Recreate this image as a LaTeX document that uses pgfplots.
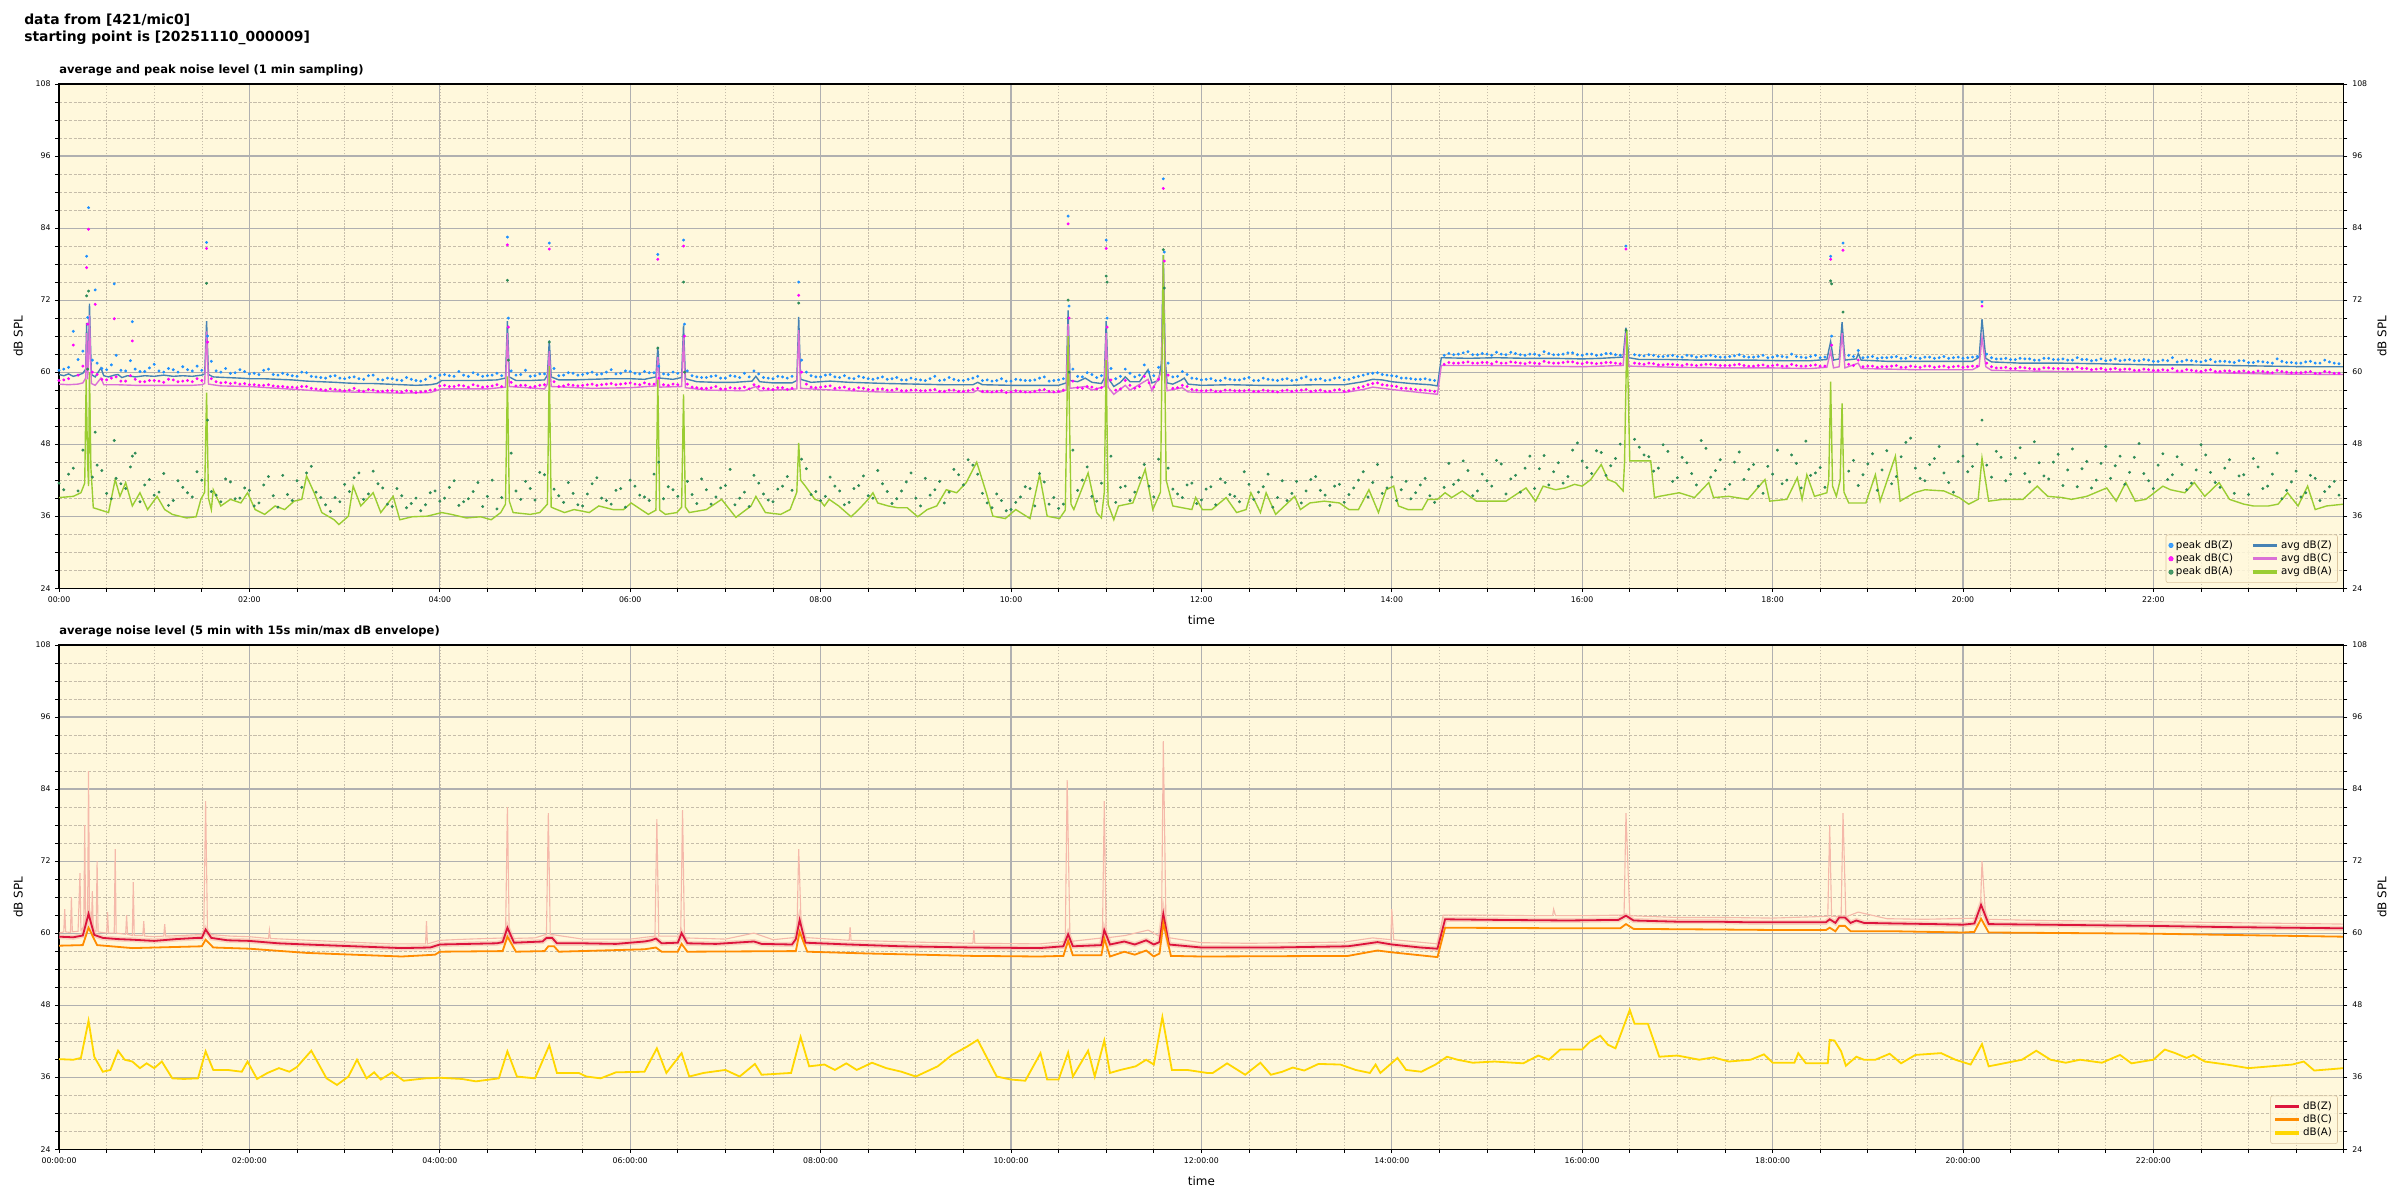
\documentclass[border=0pt]{standalone}
\usepackage{fontspec}
\setmainfont{DejaVu Sans}
\usepackage{pgfplots}
\usepackage{pgfplotstable}
\pgfplotsset{compat=1.18}

\definecolor{bg}{HTML}{FFF8DC}
\definecolor{pz}{HTML}{1E90FF}
\definecolor{pc}{HTML}{FF00FF}
\definecolor{pa}{HTML}{2E8B57}
\definecolor{az}{HTML}{4682B4}
\definecolor{ac}{HTML}{DA70D6}
\definecolor{aa}{HTML}{9ACD32}
\definecolor{cz}{HTML}{DC143C}
\definecolor{cc}{HTML}{FF8C00}
\definecolor{ca}{HTML}{FFD700}
\definecolor{env}{HTML}{F5B9AA}
\definecolor{gmaj}{HTML}{B0B0B0}
\definecolor{gmin}{HTML}{C6BDAA}
\definecolor{legedge}{HTML}{DCC6A0}

% peak values per minute (thinned)
\pgfplotstableread{
t z c a
0.0 60.3 58.6 41.5
0.05 60.5 58.7 40.4
0.1 60.8 58.9 43.0
0.15 66.8 64.5 44.0
0.2 62.1 59.5 40.2
0.25 63.5 61.0 47.0
0.29 79.3 77.4 72.7
0.3 69.1 68.0 60.5
0.31 87.4 83.8 73.5
0.35 62.0 60.0 42.5
0.38 73.7 71.3 50.0
0.4 61.5 59.6 44.5
0.45 60.6 58.8 43.6
0.5 60.4 58.7 39.8
0.55 61.2 59.0 38.9
0.58 74.7 68.9 48.6
0.6 62.8 59.2 42.3
0.65 60.3 58.5 41.4
0.7 60.2 58.5 40.6
0.75 61.9 59.4 44.2
0.77 68.4 65.2 46.0
0.8 60.5 58.8 46.5
0.85 60.1 58.4 38.4
0.9 60.1 58.4 41.2
0.95 60.7 58.6 42.1
1.0 61.3 58.6 39.5
1.05 60.2 58.5 40.0
1.1 60.0 58.3 43.1
1.15 60.6 58.8 37.8
1.2 60.4 58.7 38.6
1.25 60.0 58.4 41.9
1.3 60.9 58.5 40.8
1.35 60.4 58.6 39.9
1.4 60.2 58.4 39.2
1.45 61.0 58.9 43.4
1.5 60.3 58.6 42.0
1.55 81.6 80.6 74.8
1.56 66.0 65.0 52.0
1.6 61.8 58.9 40.1
1.65 60.2 58.4 39.5
1.7 60.0 58.2 38.4
1.75 60.6 58.3 42.2
1.8 59.8 58.1 41.7
1.85 59.9 58.2 38.9
1.9 60.4 58.0 39.0
1.95 60.1 58.1 40.7
2.0 59.7 57.9 40.3
2.05 59.8 57.9 37.7
2.1 59.6 57.8 38.2
2.15 60.3 57.8 41.2
2.2 60.5 57.9 42.6
2.25 59.6 57.7 39.4
2.3 59.5 57.6 37.5
2.35 59.8 57.6 42.8
2.4 59.6 57.5 39.6
2.45 59.4 57.5 38.6
2.5 59.3 57.4 41.9
2.55 60.0 57.6 40.8
2.6 59.9 57.6 43.2
2.65 59.3 57.3 44.3
2.7 59.2 57.2 40.0
2.75 59.1 57.1 39.1
2.8 59.0 57.0 37.9
2.85 59.3 57.2 36.8
2.9 59.4 57.1 39.1
2.95 59.0 57.0 38.4
3.0 58.9 56.9 41.3
3.05 59.1 57.0 40.1
3.1 59.2 57.3 42.4
3.15 58.9 56.9 43.2
3.2 58.8 56.8 38.8
3.25 59.4 57.1 39.7
3.3 59.5 57.0 43.5
3.35 58.8 56.8 41.4
3.4 58.7 56.8 40.7
3.45 59.0 56.9 38.0
3.5 58.9 56.9 37.6
3.55 58.7 56.7 40.6
3.6 58.6 56.7 39.4
3.65 59.1 56.9 37.4
3.7 58.8 56.8 38.1
3.75 58.6 56.6 39.0
3.8 58.5 56.7 36.9
3.85 58.8 56.8 37.9
3.9 59.3 57.0 39.9
3.95 59.0 57.1 40.2
4.0 59.5 57.7 38.5
4.05 59.6 57.8 39.0
4.1 59.4 57.6 40.8
4.15 59.3 57.6 41.9
4.2 60.1 57.8 37.8
4.25 59.5 57.7 38.4
4.3 59.3 57.5 38.9
4.35 59.9 57.9 40.1
4.4 59.6 57.7 41.6
4.45 59.3 57.5 37.6
4.5 59.4 57.6 39.3
4.55 59.5 57.7 42.0
4.6 59.8 57.9 37.2
4.65 59.4 57.6 39.1
4.71 82.5 81.2 75.3
4.72 69.0 67.5 62.0
4.75 60.2 58.3 46.5
4.8 59.5 57.7 40.2
4.85 59.6 57.8 38.8
4.9 60.3 57.8 41.8
4.95 59.3 57.5 40.6
5.0 59.4 57.6 38.7
5.05 59.7 57.8 43.3
5.1 59.7 57.9 42.9
5.15 81.5 80.5 65.0
5.2 60.6 58.4 40.5
5.25 59.4 57.6 39.4
5.3 59.5 57.7 38.3
5.35 59.9 57.9 41.6
5.4 59.8 57.8 39.8
5.45 59.5 57.7 37.9
5.5 59.6 57.8 37.7
5.55 59.8 57.9 39.7
5.6 60.0 58.0 41.4
5.65 59.6 57.8 42.4
5.7 59.7 57.9 39.0
5.75 60.0 58.0 38.6
5.8 60.4 58.1 38.0
5.85 59.7 57.9 40.3
5.9 59.8 58.0 40.6
5.95 60.2 58.1 37.5
6.0 60.1 58.2 42.0
6.05 59.8 58.0 41.0
6.1 59.7 57.9 39.5
6.15 60.1 58.2 39.2
6.2 59.9 58.0 38.6
6.25 59.9 58.0 43.0
6.29 79.6 78.8 64.0
6.3 61.0 59.0 45.0
6.35 59.7 57.9 38.9
6.4 59.6 57.8 40.9
6.45 60.0 58.0 40.4
6.5 59.8 57.9 39.3
6.56 82.0 81.0 75.0
6.57 68.0 66.0 60.0
6.6 60.2 58.0 41.8
6.65 59.4 57.5 39.6
6.7 59.2 57.4 38.1
6.75 59.1 57.3 42.2
6.8 59.1 57.3 40.4
6.85 59.3 57.4 38.0
6.9 59.4 57.6 39.2
6.95 59.0 57.2 40.7
7.0 59.0 57.2 41.1
7.05 59.4 57.4 43.8
7.1 59.3 57.3 37.9
7.15 59.1 57.3 39.0
7.2 59.8 57.5 40.0
7.25 59.2 57.2 37.6
7.3 60.2 57.9 42.8
7.35 59.7 57.6 41.5
7.4 59.1 57.3 39.7
7.45 59.0 57.2 38.7
7.5 58.9 57.1 38.4
7.55 59.3 57.4 40.5
7.6 59.2 57.4 41.0
7.65 59.0 57.1 42.6
7.7 59.3 57.3 40.3
7.77 75.0 72.8 71.5
7.8 62.0 60.0 45.5
7.85 60.0 58.0 43.9
7.9 59.4 57.5 39.6
7.95 59.2 57.4 40.1
8.0 59.2 57.5 38.6
8.05 59.5 57.6 39.3
8.1 59.6 57.7 42.5
8.15 59.2 57.3 41.0
8.2 59.1 57.4 40.2
8.25 59.4 57.5 37.9
8.3 59.0 57.2 38.3
8.35 58.9 57.1 40.6
8.4 59.3 57.4 41.1
8.45 59.1 57.3 42.7
8.5 58.9 57.1 39.4
8.55 58.8 57.0 39.0
8.6 59.0 57.2 43.6
8.65 59.2 57.2 41.4
8.7 58.8 57.0 40.1
8.75 58.9 57.0 38.1
8.8 59.1 57.2 38.9
8.85 58.7 56.9 40.2
8.9 58.7 56.9 41.7
8.95 59.0 57.0 43.2
9.0 58.8 57.0 39.0
9.05 58.7 56.9 37.7
9.1 58.6 56.9 42.3
9.15 58.9 57.0 39.5
9.2 59.3 57.1 40.4
9.25 58.6 56.8 41.8
9.3 58.7 56.8 38.2
9.35 59.1 57.0 40.0
9.4 58.8 57.0 43.8
9.45 58.6 56.8 42.9
9.5 58.6 56.8 41.2
9.55 58.8 56.9 45.4
9.6 59.0 57.1 44.5
9.65 59.3 57.3 43.0
9.7 58.6 56.8 39.8
9.75 58.7 56.8 38.2
9.8 58.5 56.7 37.4
9.85 58.6 56.8 39.7
9.9 58.9 56.9 38.6
9.95 58.5 56.6 36.9
10.0 58.5 56.7 37.1
10.05 58.8 56.9 38.3
10.1 58.7 56.8 39.2
10.15 58.6 56.7 40.9
10.2 58.6 56.7 40.6
10.25 58.7 56.8 37.7
10.3 59.0 57.0 43.1
10.35 59.2 57.1 41.7
10.4 58.5 56.8 38.0
10.45 58.6 56.7 39.1
10.5 58.7 56.8 37.3
10.55 58.9 57.0 38.0
10.6 86.0 84.7 72.0
10.61 71.0 69.0 60.0
10.65 60.5 58.5 47.0
10.7 59.3 57.4 40.3
10.75 59.2 57.3 42.0
10.8 59.9 57.6 44.2
10.85 59.6 57.5 39.3
10.9 59.1 57.2 38.5
10.95 59.4 57.4 41.5
11.0 82.0 80.6 76.0
11.01 69.0 67.5 75.0
11.05 60.6 58.7 46.0
11.1 58.9 57.0 38.3
11.15 59.3 57.2 40.8
11.2 60.5 58.6 41.0
11.25 59.8 57.8 38.6
11.3 59.2 57.3 40.0
11.35 59.5 57.6 42.4
11.4 61.2 59.3 44.6
11.45 60.0 58.2 41.0
11.5 59.4 57.5 39.2
11.55 60.8 58.8 45.5
11.6 92.2 90.6 80.4
11.61 80.0 78.5 74.0
11.65 61.5 59.5 44.0
11.7 59.2 57.3 40.5
11.75 59.3 57.4 39.7
11.8 60.1 57.8 39.1
11.85 59.6 57.6 41.2
11.9 59.0 57.1 41.5
11.95 58.9 57.0 38.1
12.0 58.7 56.9 38.7
12.05 58.8 56.9 40.5
12.1 58.9 57.0 40.9
12.15 58.6 56.8 37.9
12.2 58.6 56.8 42.2
12.25 59.0 57.0 41.6
12.3 58.8 57.0 39.6
12.35 58.7 56.9 39.3
12.4 58.7 56.9 38.4
12.45 58.9 56.9 43.4
12.5 59.1 57.0 41.3
12.55 58.6 56.8 38.8
12.6 58.6 56.8 40.0
12.65 59.0 57.0 40.9
12.7 58.8 56.9 43.0
12.75 58.7 56.8 37.5
12.8 58.6 56.7 39.1
12.85 58.8 56.9 41.9
12.9 58.9 57.0 38.6
12.95 58.6 56.8 39.8
13.0 58.7 56.9 41.8
13.05 59.0 57.0 38.2
13.1 59.2 57.1 40.2
13.15 58.7 56.8 42.1
13.2 58.8 56.9 42.6
13.25 58.9 57.0 40.3
13.3 58.6 56.8 39.5
13.35 58.7 56.8 37.8
13.4 59.0 57.0 41.0
13.45 59.1 57.1 41.3
13.5 58.7 56.8 38.3
13.55 58.8 56.9 39.6
13.6 59.1 57.2 40.7
13.65 59.3 57.4 42.0
13.7 59.5 57.6 43.4
13.75 59.7 57.9 39.2
13.8 59.8 58.1 41.6
13.85 59.9 58.2 44.6
13.9 59.6 57.9 39.8
13.95 59.5 57.8 40.7
14.0 59.4 57.7 42.5
14.05 59.3 57.6 38.6
14.1 59.0 57.3 40.4
14.15 59.0 57.3 41.8
14.2 58.9 57.2 38.9
14.25 58.8 57.1 39.9
14.3 58.8 57.0 41.2
14.35 58.9 57.0 42.3
14.4 58.7 56.9 39.4
14.45 58.6 56.8 38.3
14.55 62.8 61.3 40.8
14.6 63.1 61.6 44.8
14.65 62.9 61.5 41.3
14.7 63.0 61.5 42.0
14.75 63.2 61.6 45.2
14.8 63.4 61.7 43.6
14.85 62.9 61.5 39.4
14.9 62.9 61.5 40.2
14.95 63.1 61.6 43.0
15.0 63.0 61.6 41.9
15.05 62.8 61.4 41.0
15.1 63.3 61.7 45.3
15.15 63.0 61.5 44.7
15.2 62.9 61.5 39.7
15.25 63.3 61.7 42.2
15.3 63.1 61.6 42.8
15.35 62.9 61.5 40.0
15.4 62.8 61.4 44.0
15.45 63.0 61.6 46.0
15.5 63.0 61.5 40.6
15.55 62.8 61.4 43.9
15.6 63.4 61.8 46.1
15.65 63.1 61.6 41.2
15.7 62.9 61.5 43.4
15.75 62.9 61.5 44.9
15.8 63.0 61.6 41.5
15.85 63.2 61.7 42.6
15.9 63.2 61.7 47.0
15.95 62.9 61.5 48.2
16.0 62.8 61.4 45.2
16.05 63.0 61.6 44.1
16.1 63.0 61.5 43.1
16.15 62.8 61.4 46.9
16.2 62.9 61.5 46.6
16.25 63.1 61.6 42.8
16.3 63.1 61.6 44.4
16.35 62.9 61.5 45.6
16.4 62.8 61.4 48.0
16.46 81.0 80.5 67.0
16.55 62.9 61.5 48.8
16.6 62.8 61.4 47.5
16.65 62.7 61.3 46.2
16.7 62.9 61.5 45.9
16.75 62.8 61.4 43.5
16.8 62.6 61.2 44.0
16.85 62.6 61.2 47.9
16.9 62.7 61.3 46.8
16.95 62.8 61.3 41.8
17.0 62.6 61.2 42.4
17.05 62.5 61.1 45.8
17.1 62.8 61.3 44.9
17.15 62.7 61.2 43.1
17.2 62.5 61.1 41.2
17.25 62.6 61.2 48.6
17.3 62.7 61.3 47.3
17.35 62.8 61.3 42.5
17.4 62.6 61.2 43.6
17.45 62.5 61.1 45.4
17.5 62.5 61.1 40.5
17.55 62.6 61.1 41.3
17.6 62.7 61.2 45.0
17.65 62.9 61.3 46.7
17.7 62.6 61.1 42.1
17.75 62.5 61.0 43.8
17.8 62.5 61.0 44.6
17.85 62.6 61.1 41.0
17.9 62.8 61.2 39.8
17.95 62.4 61.0 44.3
18.0 62.5 61.1 43.0
18.05 62.7 61.2 47.0
18.1 62.6 61.0 41.4
18.15 62.5 61.0 42.0
18.2 63.0 61.3 46.2
18.25 62.6 61.1 44.8
18.3 62.5 61.0 40.7
18.35 62.4 61.0 48.5
18.4 62.6 61.1 42.8
18.45 62.8 61.2 43.2
18.5 62.4 61.0 44.1
18.55 62.5 61.0 40.8
18.61 79.3 78.8 75.2
18.62 66.0 64.5 74.7
18.74 81.5 80.3 70.0
18.8 62.8 61.3 43.5
18.85 62.6 61.1 45.3
18.9 63.6 62.0 41.1
18.95 62.4 60.9 42.9
19.0 62.5 61.0 44.7
19.05 62.6 61.0 46.4
19.1 62.3 60.8 40.3
19.15 62.4 60.9 43.7
19.2 62.4 60.9 46.9
19.25 62.5 61.0 41.4
19.3 62.6 61.1 42.6
19.35 62.3 60.8 45.9
19.4 62.3 60.8 48.3
19.45 62.6 61.0 49.0
19.5 62.4 60.9 44.0
19.55 62.3 60.8 42.3
19.6 62.5 61.0 41.9
19.65 62.5 61.0 44.6
19.7 62.3 60.8 45.6
19.75 62.4 60.9 47.6
19.8 62.6 61.0 43.2
19.85 62.3 60.8 41.6
19.9 62.4 60.9 40.0
19.95 62.5 61.0 45.1
20.0 62.3 60.8 46.0
20.05 62.4 60.9 43.4
20.1 62.5 61.0 44.3
20.15 62.6 61.0 48.0
20.2 71.7 71.0 52.0
20.25 63.0 61.5 44.5
20.3 62.4 60.9 42.5
20.35 62.2 60.7 46.8
20.4 62.2 60.7 45.8
20.45 62.3 60.8 41.9
20.5 62.1 60.6 43.0
20.55 62.1 60.6 45.7
20.6 62.3 60.8 47.4
20.65 62.2 60.7 43.1
20.7 62.2 60.6 41.7
20.75 62.0 60.5 48.4
20.8 62.0 60.5 44.9
20.85 62.3 60.7 42.7
20.9 62.3 60.7 42.2
20.95 62.1 60.6 45.0
21.0 62.1 60.6 46.3
21.05 62.2 60.6 41.1
21.1 62.0 60.5 43.7
21.15 62.0 60.5 47.2
21.2 62.4 60.8 40.9
21.25 62.1 60.6 43.9
21.3 62.1 60.6 45.1
21.35 61.9 60.4 40.7
21.4 62.0 60.5 42.0
21.45 62.2 60.6 44.8
21.5 61.9 60.4 47.6
21.55 62.0 60.5 42.3
21.6 62.2 60.6 44.4
21.65 61.9 60.4 46.0
21.7 62.0 60.5 41.3
21.75 62.1 60.5 43.3
21.8 61.9 60.3 45.8
21.85 61.9 60.3 48.1
21.9 62.1 60.5 43.1
21.95 62.0 60.4 41.9
22.0 61.8 60.3 40.6
22.05 61.8 60.3 44.5
22.1 62.0 60.4 46.4
22.15 61.9 60.3 42.1
22.2 62.4 60.6 42.9
22.25 61.7 60.2 45.9
22.3 61.8 60.2 44.6
22.35 62.0 60.4 40.4
22.4 61.9 60.3 41.5
22.45 61.8 60.2 43.7
22.5 61.7 60.1 47.9
22.55 61.9 60.3 46.2
22.6 62.1 60.4 43.3
22.65 61.7 60.1 41.6
22.7 61.8 60.1 40.8
22.75 61.8 60.2 44.0
22.8 61.7 60.2 45.4
22.85 61.6 60.0 39.8
22.9 61.9 60.1 42.7
22.95 61.9 60.2 42.9
23.0 61.6 60.0 39.6
23.05 61.6 60.0 45.6
23.1 61.8 60.2 44.2
23.15 61.7 60.1 40.6
23.2 61.6 60.0 41.0
23.25 61.5 59.9 43.0
23.3 62.2 60.3 46.5
23.35 61.8 60.1 38.9
23.4 61.6 60.0 40.3
23.45 61.6 59.9 41.7
23.5 61.5 59.9 43.5
23.55 61.5 59.9 39.2
23.6 61.7 60.0 39.9
23.65 61.8 60.1 42.8
23.7 61.5 59.8 42.3
23.75 61.5 59.8 38.6
23.8 62.0 60.1 40.1
23.85 61.7 60.0 40.9
23.9 61.5 59.8 41.8
23.95 61.4 59.8 39.5
}\peaks

% 5 min average dB(Z)
\pgfplotstableread{
t v
0 59.4
0.15 59.3
0.25 59.6
0.31 63.2
0.37 59.7
0.46 59.2
0.62 59.0
0.77 58.9
1.0 58.7
1.23 59.0
1.45 59.2
1.5 59.2
1.54 60.6
1.6 59.2
1.77 58.8
2.0 58.7
2.3 58.3
2.6 58.1
3.1 57.8
3.6 57.5
3.9 57.6
4.0 58.1
4.6 58.3
4.66 58.5
4.71 60.9
4.78 58.4
5.08 58.6
5.12 59.2
5.18 59.2
5.23 58.3
5.5 58.3
5.85 58.2
6.15 58.6
6.22 58.8
6.27 59.1
6.33 58.3
6.5 58.4
6.54 60.0
6.6 58.3
6.9 58.2
7.3 58.6
7.38 58.2
7.7 58.1
7.74 59.0
7.78 62.2
7.84 58.4
8.3 58.1
8.85 57.8
9.6 57.6
10.3 57.5
10.55 57.8
10.6 59.8
10.65 57.8
10.95 58.0
10.98 60.5
11.04 58.1
11.19 58.6
11.3 58.1
11.42 58.8
11.5 58.1
11.56 58.5
11.6 63.2
11.66 58.1
12.0 57.6
12.77 57.6
13.54 57.8
13.85 58.5
14.0 58.1
14.3 57.6
14.48 57.4
14.56 62.3
15.1 62.2
15.85 62.1
16.38 62.2
16.46 62.9
16.54 62.1
17.0 61.9
17.4 61.9
17.77 61.8
18.15 61.8
18.56 61.8
18.6 62.3
18.66 61.7
18.7 62.6
18.76 62.6
18.82 61.7
18.88 62.1
18.96 61.7
19.3 61.6
19.7 61.5
20.0 61.4
20.12 61.6
20.19 64.7
20.27 61.5
20.85 61.4
22.0 61.2
22.77 61.0
24.0 60.8
}\bz

\pgfplotsset{
  panel/.style={
    scale only axis, width=1645pt, height=363pt,
    xmin=0, xmax=24, ymin=24, ymax=108,
    axis background/.style={fill=bg},
    ytick={24,36,...,108}, minor y tick num=3,
    xtick={0,2,...,22}, minor xtick={0,0.5,...,24},
    xtick pos=bottom, ytick pos=left,
    tick align=outside,
    major tick length=2.6pt, minor tick length=2.6pt,
    every tick/.style={black, line width=0.5pt},
    grid=both,
    every major grid/.style={gmaj, line width=0.8pt},
    every minor y grid/.style={gmin, line width=0.45pt, dash pattern=on 2.2pt off 1.3pt},
    every minor x grid/.style={gmin, line width=0.45pt, dash pattern=on 1.1pt off 1.1pt},
    axis line style={black, line width=0.9pt},
    tick label style={font=\fontsize{5.6}{6}\selectfont},
    /pgf/number format/assume math mode=true,
    label style={font=\fontsize{8.6}{10}\selectfont},
    xlabel={time}, ylabel={dB SPL},
    xlabel style={at={(axis description cs:0.5,-0.064)}, anchor=center},
    ylabel style={at={(axis description cs:-0.0179,0.5)}, anchor=center},
    title style={at={(axis description cs:0,1)}, anchor=base west, inner sep=0pt, yshift=1.5pt,
      font=\bfseries\fontsize{8.3}{10}\selectfont},
    legend style={at={(rel axis cs:1,0)}, anchor=south east, xshift=-4.3pt, yshift=3.8pt,
      draw=legedge, fill=bg, fill opacity=0.85, text opacity=1, rounded corners=1.5pt,
      font=\fontsize{7.4}{8.6}\selectfont, inner sep=2pt, row sep=-1.5pt},
    legend cell align=left,
  },
  rightside/.style={
    scale only axis, width=1645pt, height=363pt,
    xmin=0, xmax=24, ymin=24, ymax=108,
    axis x line=none, axis y line*=right,
    ytick={24,36,...,108}, minor y tick num=3,
    tick align=outside,
    major tick length=2.6pt, minor tick length=2.6pt,
    every tick/.style={black, line width=0.5pt},
    axis line style={black, line width=0.9pt},
    tick label style={font=\fontsize{5.6}{6}\selectfont},
    /pgf/number format/assume math mode=true,
    label style={font=\fontsize{8.6}{10}\selectfont},
    ylabel={dB SPL},
    ylabel style={at={(axis description cs:1.0167,0.5)}, anchor=center},
  },
}

\begin{document}
\begin{tikzpicture}

\node[anchor=north west, inner sep=0pt, align=left,
  font=\bfseries\fontsize{10}{11.6}\selectfont] at (-25.2pt,50.3pt)
  {data from [421/mic0]\\starting point is [20251110\_000009]};

% ---- top panel: 1 min averages and peaks
\begin{axis}[panel, at={(0pt,0pt)}, anchor=north west,
  title={average and peak noise level (1 min sampling)},
  xticklabels={00:00,02:00,04:00,06:00,08:00,10:00,12:00,14:00,16:00,18:00,20:00,22:00},
  legend columns=2,
  legend style={/tikz/every even column/.append style={column sep=11pt}},
]
\addplot[only marks, mark=*, mark size=0.85pt, pz, mark options={draw=none, fill=pz},
  legend image post style={mark size=1.6pt}] table[x=t, y=z] {\peaks};
\addlegendentry{peak dB(Z)}
\addplot[az, line width=1pt, legend image post style={line width=2.4pt}] coordinates {
(0,59.6) (0.05,59.4) (0.1,59.7) (0.15,59.3) (0.2,59.5) (0.25,59.8) (0.28,60.5) (0.29,68.2)
(0.3,60.2) (0.31,64) (0.32,71.4) (0.33,65) (0.34,59.6) (0.38,59.2) (0.42,60.2) (0.44,60.7)
(0.47,59.4) (0.52,59.2) (0.58,59.5) (0.62,59.6) (0.66,59.1) (0.72,59.4) (0.8,59.2) (0.9,59.4)
(1.0,59.3) (1.1,59.5) (1.2,59.3) (1.3,59.4) (1.4,59.3) (1.5,59.5) (1.53,59.7) (1.55,68.5)
(1.57,59.6) (1.62,59.2) (1.75,59.1) (1.9,59.0) (2.0,58.9) (2.15,58.9) (2.3,58.8) (2.45,58.7)
(2.6,58.5) (2.75,58.4) (2.9,58.3) (3.0,58.2) (3.15,58.1) (3.3,58.1) (3.45,58.0) (3.6,57.9)
(3.75,57.8) (3.9,57.9) (3.97,58.1) (4.02,58.6) (4.2,58.6) (4.4,58.6) (4.6,58.7) (4.69,59.0)
(4.71,68.5) (4.73,59.2) (4.8,58.6) (4.95,58.6) (5.1,58.7) (5.13,59.5) (5.15,65.3) (5.17,59.2)
(5.25,58.7) (5.4,58.7) (5.6,58.8) (5.8,58.9) (6.0,58.9) (6.15,58.8) (6.27,59.2) (6.29,64.2)
(6.31,59.0) (6.45,58.8) (6.54,59.1) (6.56,67.8) (6.58,58.9) (6.7,58.4) (6.9,58.3) (7.1,58.3)
(7.28,58.5) (7.32,59.3) (7.36,58.4) (7.5,58.2) (7.7,58.2) (7.75,58.6) (7.77,69.2) (7.79,58.8)
(7.9,58.3) (8.0,58.4) (8.1,58.5) (8.3,58.3) (8.5,58.2) (8.7,58.1) (9.0,58.0) (9.3,57.9)
(9.6,57.9) (9.65,58.3) (9.7,57.9) (10.0,57.8) (10.3,57.8) (10.5,57.8) (10.58,58.2) (10.6,70.3)
(10.62,58.6) (10.7,58.4) (10.78,59.0) (10.85,58.3) (10.95,58.1) (10.98,59.0) (11.0,68.5) (11.02,59.0)
(11.08,57.6) (11.15,58.3) (11.2,59.2) (11.25,58.4) (11.35,58.4) (11.44,60.4) (11.48,58.2) (11.55,58.6)
(11.58,61.5) (11.6,79.5) (11.62,62) (11.64,58.2) (11.7,58.0) (11.78,58.6) (11.82,59.0) (11.86,58.0)
(12.0,57.8) (12.3,57.9) (12.6,57.8) (12.9,57.8) (13.2,57.9) (13.5,57.9) (13.7,58.4) (13.8,58.8)
(13.9,58.7) (14.0,58.4) (14.2,58.1) (14.4,57.9) (14.48,57.7) (14.52,62.4) (14.8,62.3) (15.1,62.4)
(15.4,62.3) (15.7,62.3) (16.0,62.2) (16.2,62.3) (16.43,62.5) (16.46,67.4) (16.49,62.4) (16.6,62.1)
(16.9,62.1) (17.2,62.0) (17.5,62.0) (17.8,62.0) (18.1,61.9) (18.4,61.9) (18.57,62.1) (18.61,65.1)
(18.64,62.0) (18.7,62.2) (18.73,68.3) (18.76,62.0) (18.88,62.2) (18.9,63.1) (18.93,62.0) (19.2,61.8)
(19.5,61.8) (19.8,61.8) (20.1,61.8) (20.17,62.5) (20.2,68.8) (20.24,62.3) (20.3,61.7) (20.6,61.5)
(21.0,61.5) (21.4,61.4) (21.7,61.3) (22.0,61.2) (22.4,61.2) (22.8,61.1) (23.2,61.0) (23.6,60.9)
(24.0,60.9)};
\addlegendentry{avg dB(Z)}
\addplot[only marks, mark=*, mark size=0.85pt, pc, mark options={draw=none, fill=pc},
  legend image post style={mark size=1.6pt}] table[x=t, y=c] {\peaks};
\addlegendentry{peak dB(C)}
\addplot[ac, line width=1pt, legend image post style={line width=2.4pt}] coordinates {
(0,58.0) (0.1,57.9) (0.2,58.0) (0.25,58.2) (0.28,59) (0.29,66.5) (0.3,58.8) (0.31,62)
(0.32,69.5) (0.33,63) (0.34,58.1) (0.38,57.8) (0.44,59.0) (0.47,57.9) (0.6,57.9) (0.8,57.8)
(1.0,57.8) (1.2,57.8) (1.4,57.8) (1.5,57.9) (1.53,58.1) (1.55,66.8) (1.57,58.0) (1.7,57.7)
(2.0,57.6) (2.3,57.3) (2.6,57.0) (2.8,56.8) (3.0,56.7) (3.3,56.6) (3.6,56.5) (3.9,56.6)
(4.02,57.2) (4.5,57.2) (4.69,57.5) (4.71,66.5) (4.73,57.6) (5.1,57.2) (5.13,58) (5.15,63.5)
(5.17,57.6) (5.6,57.3) (6.0,57.4) (6.27,57.7) (6.29,62.5) (6.31,57.5) (6.54,57.6) (6.56,65.8)
(6.58,57.4) (6.8,57.0) (7.2,56.9) (7.32,57.6) (7.36,56.9) (7.75,57.2) (7.77,67.0) (7.79,57.3)
(8.0,57.1) (8.3,56.9) (8.6,56.7) (9.0,56.6) (9.6,56.6) (9.65,57.0) (9.7,56.6) (10.5,56.6)
(10.58,57) (10.6,68.0) (10.62,57.3) (10.78,57.6) (10.85,57.0) (10.98,57.6) (11.0,66.5) (11.02,57.5)
(11.08,56.3) (11.2,57.8) (11.25,57.0) (11.44,58.8) (11.48,56.9) (11.58,60) (11.6,77.5) (11.62,60.5)
(11.64,56.9) (11.8,57.4) (11.86,56.7) (12.0,56.6) (13.0,56.6) (13.5,56.6) (13.7,57.1) (13.8,57.5)
(14.0,57.1) (14.3,56.6) (14.48,56.3) (14.52,61.1) (15.0,61.1) (15.5,61.0) (16.0,60.9) (16.43,61.1)
(16.46,66.5) (16.49,61.0) (17.0,60.8) (17.5,60.7) (18.0,60.7) (18.4,60.6) (18.57,60.8) (18.61,63.5)
(18.64,60.7) (18.7,60.9) (18.73,66.5) (18.76,60.7) (18.9,61.5) (18.93,60.6) (19.5,60.4) (20.1,60.4)
(20.17,61.0) (20.2,65.8) (20.24,60.9) (20.3,60.3) (21.0,60.1) (22.0,60.0) (22.6,59.9) (23.2,59.7)
(24.0,59.6)};
\addlegendentry{avg dB(C)}
\addplot[only marks, mark=*, mark size=0.85pt, pa, mark options={draw=none, fill=pa},
  legend image post style={mark size=1.6pt}] table[x=t, y=a] {\peaks};
\addlegendentry{peak dB(A)}
\addplot[aa, line width=1pt, legend image post style={line width=2.4pt}] coordinates {
(0,39.1) (0.15,39.3) (0.23,39.9) (0.27,41.5) (0.285,58.8) (0.3,45) (0.31,41) (0.32,60)
(0.335,44) (0.36,37.4) (0.52,36.6) (0.59,42.1) (0.64,39.3) (0.70,41.6) (0.77,37.7) (0.85,39.9)
(0.93,37.1) (1.03,39.3) (1.11,37.1) (1.19,36.3) (1.34,35.7) (1.44,35.9) (1.49,38.8) (1.53,40)
(1.55,56.6) (1.57,39) (1.6,37.1) (1.62,40.4) (1.70,37.7) (1.80,38.8) (1.91,38.2) (1.98,39.9)
(2.06,37.1) (2.16,36.3) (2.27,37.7) (2.37,37.1) (2.47,38.5) (2.55,38.8) (2.60,42.7) (2.68,39.9)
(2.76,36.6) (2.89,35.4) (2.94,34.6) (3.04,36.0) (3.09,41.0) (3.17,37.7) (3.30,39.9) (3.38,36.6)
(3.51,39.3) (3.58,35.4) (3.71,35.9) (3.87,36.0) (4.02,36.6) (4.12,36.3) (4.28,35.7) (4.43,35.9)
(4.54,35.4) (4.64,36.6) (4.69,38) (4.71,59.3) (4.73,38.5) (4.77,36.6) (4.95,36.3) (5.05,36.6)
(5.13,38) (5.15,61) (5.17,37.5) (5.23,37.1) (5.31,36.6) (5.41,37.1) (5.57,36.6) (5.67,37.7)
(5.82,37.1) (5.93,37.1) (6.01,38.2) (6.19,36.3) (6.27,37) (6.29,58.8) (6.31,37) (6.37,36.3)
(6.49,36.6) (6.54,37.5) (6.56,56.3) (6.58,37.5) (6.62,36.6) (6.80,37.1) (6.96,38.8) (7.11,35.8)
(7.27,37.7) (7.32,39.3) (7.42,36.6) (7.58,36.3) (7.68,37.1) (7.75,40) (7.77,48.2) (7.79,42)
(7.84,41.0) (7.94,38.8) (8.0,38.5) (8.04,37.7) (8.09,38.8) (8.19,37.7) (8.32,35.9) (8.40,37.1)
(8.50,38.8) (8.55,39.9) (8.60,38.2) (8.71,37.7) (8.81,37.4) (8.91,37.4) (9.02,35.9) (9.12,37.1)
(9.22,37.7) (9.32,40.4) (9.43,39.9) (9.53,41.6) (9.64,45.0) (9.74,39.9) (9.81,36.0) (9.94,35.6)
(10.05,37.1) (10.20,35.6) (10.30,42.9) (10.38,36.0) (10.51,35.6) (10.57,37) (10.6,66) (10.63,38)
(10.66,37.1) (10.81,43.2) (10.90,36.6) (10.95,35.7) (10.98,40) (11.0,62) (11.02,38) (11.08,35.4)
(11.13,37.7) (11.28,38.2) (11.41,43.8) (11.49,37.1) (11.57,40) (11.6,79.5) (11.63,42) (11.70,37.7)
(11.90,37.1) (11.94,39.1) (12.01,37.1) (12.11,37.1) (12.26,39.1) (12.37,36.6) (12.47,37.1) (12.52,39.9)
(12.62,36.6) (12.68,39.9) (12.78,36.3) (12.98,39.3) (13.04,37.1) (13.14,38.2) (13.29,38.5) (13.45,38.2)
(13.55,37.1) (13.65,37.1) (13.76,40.4) (13.86,36.6) (13.94,40.4) (14.02,41.0) (14.07,37.7) (14.17,37.1)
(14.32,37.1) (14.38,38.8) (14.48,38.8) (14.56,39.9) (14.63,39.1) (14.74,40.2) (14.89,38.5) (15.10,38.5)
(15.20,38.5) (15.41,40.7) (15.51,38.5) (15.59,41.0) (15.72,40.4) (15.82,40.7) (15.92,41.3) (16.0,41.0)
(16.09,42.1) (16.20,44.6) (16.27,42.1) (16.35,41.6) (16.43,40.2) (16.445,45) (16.47,67) (16.5,45.2)
(16.56,45.2) (16.72,45.2) (16.76,39.1) (16.81,39.3) (17.02,39.9) (17.18,39.1) (17.33,41.6) (17.38,39.1)
(17.54,39.3) (17.74,38.8) (17.92,42.1) (17.97,38.5) (18.15,38.8) (18.26,42.4) (18.31,38.8) (18.36,42.9)
(18.44,39.3) (18.57,39.9) (18.59,42) (18.61,58.4) (18.63,41) (18.67,39.3) (18.71,42) (18.73,54.8)
(18.75,40) (18.80,38.2) (18.98,38.2) (19.08,42.9) (19.13,38.5) (19.29,46.0) (19.34,38.5) (19.49,39.9)
(19.60,40.4) (19.80,40.2) (19.96,39.1) (20.06,38.0) (20.16,38.8) (20.2,45.7) (20.27,38.5) (20.42,38.8)
(20.63,38.8) (20.78,41.0) (20.89,39.3) (21.04,39.1) (21.14,38.8) (21.30,39.3) (21.51,40.7) (21.61,38.5)
(21.71,41.6) (21.81,38.5) (21.92,38.8) (22.10,41.0) (22.18,40.4) (22.33,39.9) (22.43,41.6) (22.54,39.3)
(22.69,41.6) (22.80,38.8) (22.95,38.0) (23.05,37.7) (23.21,37.7) (23.31,38.0) (23.41,39.9) (23.52,37.7)
(23.62,41.0) (23.70,37.1) (23.82,37.7) (24.0,38.0)};
\addlegendentry{avg dB(A)}
\end{axis}
\begin{axis}[rightside, at={(0pt,0pt)}, anchor=north west]
\end{axis}

% ---- bottom panel: 5 min averages with 15 s envelope
\begin{axis}[panel, at={(0pt,-403.9pt)}, anchor=north west,
  title={average noise level (5 min with 15s min/max dB envelope)},
  xticklabels={00:00:00,02:00:00,04:00:00,06:00:00,08:00:00,10:00:00,12:00:00,14:00:00,16:00:00,18:00:00,20:00:00,22:00:00},
]
\addplot[env, line width=0.8pt, forget plot] coordinates {
(0,60.0) (0.05,60.2) (0.06,64.0) (0.07,60.2) (0.12,60.1) (0.13,66.0) (0.14,60.2) (0.2,60.3)
(0.22,70.0) (0.23,60.5) (0.26,61.0) (0.27,78.0) (0.28,61.0) (0.3,62.0) (0.31,87.0) (0.32,63.0)
(0.34,61.0) (0.35,67.0) (0.36,60.5) (0.39,60.3) (0.4,72.0) (0.41,60.2) (0.5,60.0) (0.51,63.5)
(0.52,60.0) (0.58,60.0) (0.59,74.0) (0.6,60.0) (0.7,59.8) (0.71,63.0) (0.72,59.8) (0.77,59.6)
(0.78,68.5) (0.79,59.6) (0.88,59.6) (0.89,62.0) (0.9,59.5) (1.0,59.4) (1.1,59.5) (1.11,61.5)
(1.12,59.5) (1.3,59.6) (1.52,59.8) (1.54,82.0) (1.56,59.8) (1.8,59.5) (2.0,59.4) (2.2,59.1)
(2.21,60.5) (2.22,59.1) (2.5,58.9) (2.9,58.6) (3.2,58.4) (3.5,58.2) (3.85,58.2) (3.86,62.0)
(3.87,58.2) (4.0,58.8) (4.3,59.0) (4.69,59.2) (4.71,81.0) (4.73,59.1) (5.0,59.2) (5.12,59.8)
(5.14,80.0) (5.16,59.8) (5.5,59.0) (6.0,59.0) (6.26,59.5) (6.28,79.0) (6.3,59.5) (6.53,59.5)
(6.55,80.5) (6.57,59.2) (7.0,59.0) (7.3,60.0) (7.5,58.9) (7.75,59.3) (7.77,74.0) (7.8,59.3)
(8.3,58.8) (8.31,61.0) (8.32,58.8) (9.0,58.5) (9.6,58.3) (9.61,60.5) (9.62,58.3) (10.3,58.2)
(10.57,58.6) (10.59,85.5) (10.62,58.6) (10.96,59.2) (10.98,82.0) (11.0,59.2) (11.2,59.6) (11.44,60.5)
(11.58,59.3) (11.6,92.0) (11.63,59.3) (12.0,58.4) (12.5,58.3) (13.0,58.4) (13.5,58.5) (13.8,59.2)
(13.99,58.9) (14.0,64.0) (14.02,58.9) (14.48,58.2) (14.54,63.0) (15.0,63.0) (15.5,62.9) (15.69,62.9)
(15.7,64.0) (15.72,62.9) (16.0,62.9) (16.44,63.0) (16.46,80.0) (16.5,62.9) (17.0,62.6) (17.5,62.6)
(18.0,62.5) (18.58,62.8) (18.6,78.0) (18.62,62.8) (18.72,62.7) (18.74,80.0) (18.77,62.7) (18.9,63.5)
(19.2,62.4) (19.6,62.3) (20.18,62.5) (20.2,72.0) (20.24,62.3) (20.8,62.1) (21.5,62.0) (22.0,61.9)
(23.0,61.7) (24.0,61.5)};
\addplot[env, line width=3.6pt, opacity=0.6, forget plot] table[x=t, y=v] {\bz};
\addplot[cz, line width=1.3pt, legend image post style={line width=2.4pt}] table[x=t, y=v] {\bz};
\addlegendentry{dB(Z)}
\addplot[cc, line width=1.3pt, legend image post style={line width=2.4pt}] coordinates {
(0,57.9) (0.25,58.0) (0.31,60.9) (0.4,58.0) (0.77,57.5) (1.5,57.8) (1.54,58.9) (1.62,57.6)
(2.0,57.4) (2.6,56.7) (3.1,56.4) (3.6,56.1) (3.95,56.4) (4.0,56.9) (4.66,57.0) (4.71,59.4)
(4.8,56.9) (5.1,57.0) (5.14,57.8) (5.2,57.8) (5.25,56.9) (6.15,57.3) (6.27,57.6) (6.33,56.9)
(6.5,56.9) (6.54,58.2) (6.6,56.9) (7.74,57.0) (7.78,60.2) (7.86,56.9) (8.5,56.6) (9.6,56.2)
(10.3,56.1) (10.55,56.2) (10.6,58.7) (10.65,56.3) (10.95,56.3) (10.98,59.1) (11.04,56.1) (11.19,56.9)
(11.3,56.4) (11.42,57.1) (11.5,56.1) (11.56,56.6) (11.6,61.7) (11.68,56.2) (12.0,56.1) (13.54,56.2)
(13.85,57.1) (14.0,56.8) (14.48,56.0) (14.56,60.9) (15.85,60.8) (16.4,60.8) (16.46,61.5) (16.54,60.7)
(17.4,60.6) (18.15,60.5) (18.56,60.5) (18.6,60.9) (18.66,60.3) (18.7,61.2) (18.76,61.2) (18.82,60.3)
(19.3,60.3) (20.0,60.1) (20.12,60.2) (20.19,62.4) (20.27,60.1) (22.0,59.9) (22.77,59.7) (24.0,59.4)};
\addlegendentry{dB(C)}
\addplot[ca, line width=1.3pt, legend image post style={line width=2.4pt}] coordinates {
(0,39.0) (0.15,38.9) (0.23,39.2) (0.31,45.4) (0.37,39.4) (0.46,36.9) (0.54,37.2) (0.62,40.4)
(0.69,38.9) (0.77,38.6) (0.85,37.5) (0.92,38.3) (1.0,37.5) (1.08,38.6) (1.19,35.8) (1.31,35.7)
(1.46,35.8) (1.54,40.3) (1.62,37.2) (1.77,37.2) (1.92,36.9) (1.98,38.6) (2.08,35.7) (2.19,36.7)
(2.31,37.5) (2.42,36.9) (2.5,37.7) (2.65,40.4) (2.81,35.8) (2.92,34.7) (3.04,36.1) (3.13,38.9)
(3.23,35.8) (3.31,36.8) (3.38,35.6) (3.5,36.8) (3.62,35.4) (3.85,35.8) (4.0,35.9) (4.23,35.7)
(4.38,35.3) (4.62,35.8) (4.71,40.3) (4.81,36.1) (5.0,35.8) (5.15,41.3) (5.23,36.7) (5.46,36.7)
(5.54,36.1) (5.69,35.8) (5.85,36.8) (6.15,36.9) (6.28,40.8) (6.38,36.7) (6.54,40.0) (6.62,36.1)
(6.77,36.7) (7.0,37.2) (7.15,36.1) (7.31,38.2) (7.38,36.4) (7.69,36.7) (7.79,42.7) (7.88,37.8)
(8.04,38.1) (8.15,37.2) (8.27,38.3) (8.38,37.2) (8.54,38.4) (8.69,37.5) (8.85,36.9) (9.0,36.1)
(9.23,37.8) (9.38,39.7) (9.54,41.1) (9.65,42.2) (9.85,36.1) (10.0,35.6) (10.15,35.4) (10.31,40.0)
(10.38,35.6) (10.5,35.6) (10.6,40.1) (10.65,36.1) (10.81,40.4) (10.88,36.1) (10.98,42.1) (11.04,36.7)
(11.15,37.2) (11.31,37.8) (11.42,38.9) (11.5,38.1) (11.59,46.0) (11.69,37.2) (11.85,37.2) (12.06,36.7)
(12.12,36.7) (12.27,38.3) (12.46,36.4) (12.62,38.4) (12.73,36.4) (12.85,36.9) (12.96,37.6) (13.08,37.1)
(13.23,38.2) (13.46,38.1) (13.62,37.2) (13.77,36.7) (13.83,38.1) (13.88,36.7) (13.96,37.8) (14.06,39.2)
(14.15,37.2) (14.31,36.9) (14.46,38.1) (14.58,39.4) (14.69,38.9) (14.85,38.4) (15.08,38.6) (15.38,38.3)
(15.54,39.6) (15.65,38.9) (15.77,40.6) (16.0,40.6) (16.08,41.9) (16.19,42.9) (16.27,41.4) (16.35,40.8)
(16.5,47.2) (16.55,44.9) (16.69,44.9) (16.81,39.4) (17.0,39.6) (17.23,38.9) (17.38,39.3) (17.54,38.6)
(17.77,38.9) (17.91,39.8) (18.0,38.4) (18.23,38.4) (18.27,40.0) (18.35,38.3) (18.58,38.3) (18.6,42.2)
(18.65,42.1) (18.72,40.3) (18.77,37.9) (18.88,39.4) (18.96,38.9) (19.08,38.9) (19.23,39.9) (19.35,38.3)
(19.5,39.7) (19.77,40.0) (19.92,38.9) (20.08,38.1) (20.2,41.5) (20.27,37.8) (20.46,38.4) (20.62,38.9)
(20.77,40.4) (20.92,38.9) (21.08,38.4) (21.23,38.9) (21.46,38.4) (21.65,39.7) (21.77,38.3) (22.0,38.9)
(22.12,40.6) (22.23,40.0) (22.35,39.2) (22.42,39.7) (22.54,38.6) (22.77,38.1) (23.0,37.5) (23.23,37.8)
(23.46,38.1) (23.58,38.6) (23.69,37.1) (24.0,37.5)};
\addlegendentry{dB(A)}
\end{axis}
\begin{axis}[rightside, at={(0pt,-403.9pt)}, anchor=north west]
\end{axis}

\pgfresetboundingbox
\path[use as bounding box] (-42.5pt,60.5pt) rectangle (1685.5pt,-803.5pt);
\end{tikzpicture}
\end{document}
